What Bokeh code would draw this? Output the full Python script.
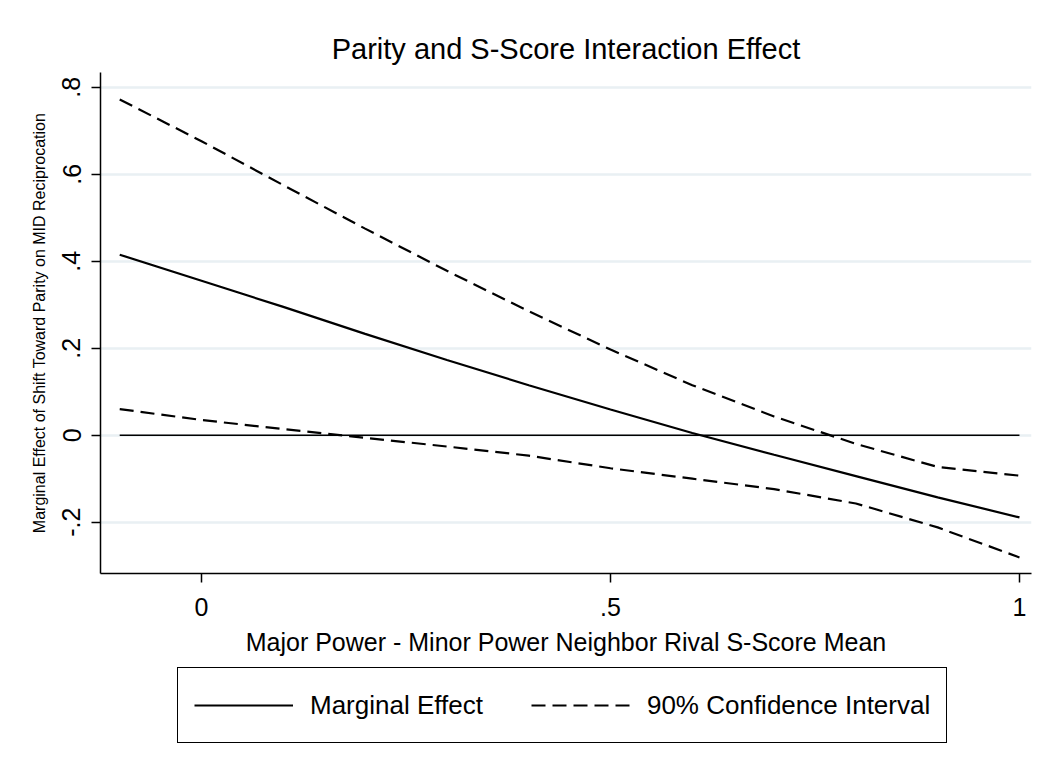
from bokeh.plotting import figure
from bokeh.layouts import column
from bokeh.models import Range1d, FixedTicker, CustomJSTickFormatter, Legend, LegendItem
from bokeh.embed import file_html
from bokeh.resources import INLINE

# ---- data ----
x_vals = [-0.1, 0.0, 0.1, 0.2, 0.3, 0.4, 0.5, 0.6, 0.7, 0.8, 0.9, 1.0]
marginal_effect = [0.415, 0.355, 0.295, 0.233, 0.173, 0.115, 0.059, 0.005, -0.045, -0.094, -0.143, -0.189]
ci_upper = [0.772, 0.676, 0.575, 0.475, 0.378, 0.285, 0.197, 0.115, 0.043, -0.020, -0.073, -0.093]
ci_lower = [0.060, 0.035, 0.014, -0.006, -0.026, -0.047, -0.076, -0.100, -0.124, -0.157, -0.212, -0.281]
zero_ref = [0.0 for _ in x_vals]

y_ticks = [-0.2, 0.0, 0.2, 0.4, 0.6, 0.8]
y_tick_labels = ["-.2", "0", ".2", ".4", ".6", ".8"]
x_ticks = [0.0, 0.5, 1.0]
x_tick_labels = ["0", ".5", "1"]

title_text = "Parity and S-Score Interaction Effect"
x_label = "Major Power - Minor Power Neighbor Rival S-Score Mean"
y_label = "Marginal Effect of Shift Toward Parity on MID Reciprocation"
legend_labels = ["Marginal Effect", "90% Confidence Interval"]

FONT = "Liberation Sans"
DASH = "14 7"

p = figure(width=1040, height=666, output_backend="svg", toolbar_location=None,
           x_range=Range1d(-0.1235, 1.0147), y_range=Range1d(-0.318, 0.834),
           min_border_left=100, min_border_right=9, min_border_top=72,
           min_border_bottom=93,
           title=title_text)
p.outline_line_color = None
p.background_fill_color = "white"
p.border_fill_color = "white"

p.title.text_font = FONT
p.title.text_font_size = "29px"
p.title.text_font_style = "normal"
p.title.align = "center"
p.title.text_color = "black"
p.title.standoff = 15

fmt_code = """
let best = 0; let d = Infinity;
for (let i = 0; i < tvals.length; i++) {
  const dd = Math.abs(tvals[i] - tick);
  if (dd < d) { d = dd; best = i; }
}
return tlabels[best];
"""

# axes
p.xaxis.ticker = FixedTicker(ticks=x_ticks)
p.xaxis.formatter = CustomJSTickFormatter(args=dict(tvals=x_ticks, tlabels=x_tick_labels), code=fmt_code)
p.yaxis.ticker = FixedTicker(ticks=y_ticks)
p.yaxis.formatter = CustomJSTickFormatter(args=dict(tvals=y_ticks, tlabels=y_tick_labels), code=fmt_code)

for ax in (p.xaxis, p.yaxis):
    ax.axis_line_color = "black"
    ax.axis_line_width = 1.5
    ax.major_tick_line_color = "black"
    ax.major_tick_line_width = 1.5
    ax.major_tick_out = 9
    ax.major_tick_in = 0
    ax.minor_tick_line_color = None
    ax.major_label_text_font = FONT
    ax.major_label_text_font_size = "25px"
    ax.major_label_text_color = "black"
    ax.axis_label_text_font = FONT
    ax.axis_label_text_font_style = "normal"
    ax.axis_label_text_color = "black"

p.xaxis.axis_label = x_label
p.xaxis.axis_label_text_font_size = "25px"
p.xaxis.major_label_standoff = 15
p.xaxis.axis_label_standoff = 9

p.yaxis.axis_label = y_label
p.yaxis.axis_label_text_font_size = "16px"
p.yaxis.major_label_orientation = "vertical"
p.yaxis.major_label_standoff = 11
p.yaxis.axis_label_standoff = 12

p.xgrid.grid_line_color = None
p.ygrid.grid_line_color = "#e9f0f3"
p.ygrid.grid_line_width = 2.5

# zero reference line over the data's x range
p.line(x_vals, zero_ref, line_color="black", line_width=1.5)

p.line(x_vals, marginal_effect, line_color="black", line_width=2.2)
p.line(x_vals, ci_upper, line_color="black", line_width=2.2, line_dash=DASH)
p.line(x_vals, ci_lower, line_color="black", line_width=2.2, line_dash=DASH)

# ---- legend strip below the chart (frame aligned with the chart's frame) ----
pl = figure(width=1040, height=90, output_backend="svg", toolbar_location=None,
            x_axis_location=None, y_axis_location=None,
            x_range=Range1d(5, 6), y_range=Range1d(5, 6),
            min_border_left=0, min_border_right=0, min_border_top=0, min_border_bottom=0)
pl.outline_line_color = None
pl.grid.grid_line_color = None
pl.background_fill_color = "white"
pl.border_fill_color = "white"

me_l = pl.line(x_vals, marginal_effect, line_color="black", line_width=2.2)
ci_l = pl.line(x_vals, ci_upper, line_color="black", line_width=2.2, line_dash=DASH)

legend = Legend(items=[LegendItem(label=legend_labels[0], renderers=[me_l]),
                       LegendItem(label=legend_labels[1], renderers=[ci_l])],
                orientation="horizontal", location=(77, 13))
legend.label_text_font = FONT
legend.label_text_font_size = "26px"
legend.label_text_color = "black"
legend.glyph_width = 99
legend.glyph_height = 42
legend.label_height = 42
legend.label_standoff = 17
legend.spacing = 48
legend.padding = 16
legend.margin = 0
legend.border_line_color = "black"
legend.border_line_alpha = 1.0
legend.border_line_width = 1.5
legend.background_fill_color = "white"
legend.background_fill_alpha = 1.0
pl.add_layout(legend)

layout = column(p, pl, spacing=0)
open("out.html", "w").write(file_html(layout, INLINE))
